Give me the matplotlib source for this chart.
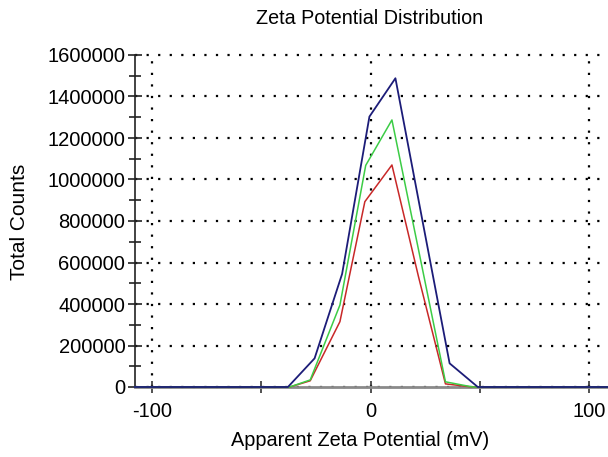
import matplotlib
matplotlib.use("Agg")
import matplotlib.pyplot as plt
from matplotlib.ticker import MultipleLocator, FixedLocator

plt.rcParams['font.family'] = ['Liberation Sans', 'DejaVu Sans']

# Data
blue_x = [-108, -37.8, -25.6, -13.0, -0.5, 11.4, 23.8, 36.2, 49.1, 109]
blue_y = [0, 0, 138000, 545000, 1303000, 1488000, 800000, 114000, 0, 0]

green_x = [-108, -37.0, -27.6, -14.0, -2.2, 9.8, 22.0, 34.3, 46.7, 109]
green_y = [0, 0, 34000, 395000, 1068000, 1287000, 660000, 25000, 0, 0]

red_x = [-108, -37.0, -27.6, -14.0, -2.6, 9.8, 22.0, 34.3, 46.7, 109]
red_y = [0, 0, 30000, 315000, 893000, 1070000, 530000, 15000, 0, 0]

x_major = [-100, 0, 100]
x_minor = [-50, 50]
y_major = [0, 200000, 400000, 600000, 800000, 1000000, 1200000, 1400000, 1600000]

title = "Zeta Potential Distribution"
xlabel = "Apparent Zeta Potential (mV)"
ylabel = "Total Counts"

fig = plt.figure(figsize=(6.08, 4.57), dpi=100)
ax = fig.add_axes([135/608, 70/457, 1 - 135/608, 332/457])

ax.set_xlim(-107.8, 108.7)
ax.set_ylim(0, 1600000)

dot = (0, (1, 4.2))
for yv in y_major:
    ax.plot([-107.8, 108.7], [yv, yv], color='black', lw=1.6, linestyle=dot,
            zorder=1, clip_on=False)
for xv in x_major:
    ax.plot([xv, xv], [0, 1600000], color='black', lw=1.6, linestyle=dot,
            zorder=1, clip_on=False)

ax.plot(red_x, red_y, color='#c82828', lw=1.1, zorder=3, clip_on=False)
ax.plot(green_x, green_y, color='#3ccc46', lw=1.1, zorder=4, clip_on=False)
ax.plot(blue_x, blue_y, color='#1c1c78', lw=1.3, zorder=5, clip_on=False)

for s in ['top', 'right']:
    ax.spines[s].set_visible(False)
ax.spines['bottom'].set_color('#8a8a8a')
ax.spines['bottom'].set_linewidth(2.0)
ax.spines['bottom'].set_zorder(2)
ax.spines['left'].set_color('#222222')
ax.spines['left'].set_linewidth(1.2)

ax.xaxis.set_major_locator(FixedLocator(x_major))
ax.xaxis.set_minor_locator(FixedLocator(x_minor))
ax.yaxis.set_major_locator(FixedLocator(y_major))
ax.yaxis.set_minor_locator(MultipleLocator(100000))

ax.tick_params(axis='x', which='both', direction='inout', length=9, width=1.2,
               color='#333333', labelsize=14.5, pad=6)
ax.tick_params(axis='y', which='major', direction='inout', length=10, width=1.2,
               color='#222222', labelsize=14.5, pad=2)
ax.tick_params(axis='y', which='minor', direction='inout', length=9, width=1.2,
               color='#222222')
ax.set_xticklabels([str(v) for v in x_major])
ax.set_yticklabels([str(v) for v in y_major])

fig.text(360/608, 1 - 441/457, xlabel, fontsize=14.3, ha='center', va='center')
fig.text(20/608, 1 - 222/457, ylabel, fontsize=15, rotation=90,
         ha='center', va='center')
fig.text(370/608, 1 - 18/457, title, fontsize=14.2, ha='center', va='center')

fig.savefig('out.png', dpi=100)
